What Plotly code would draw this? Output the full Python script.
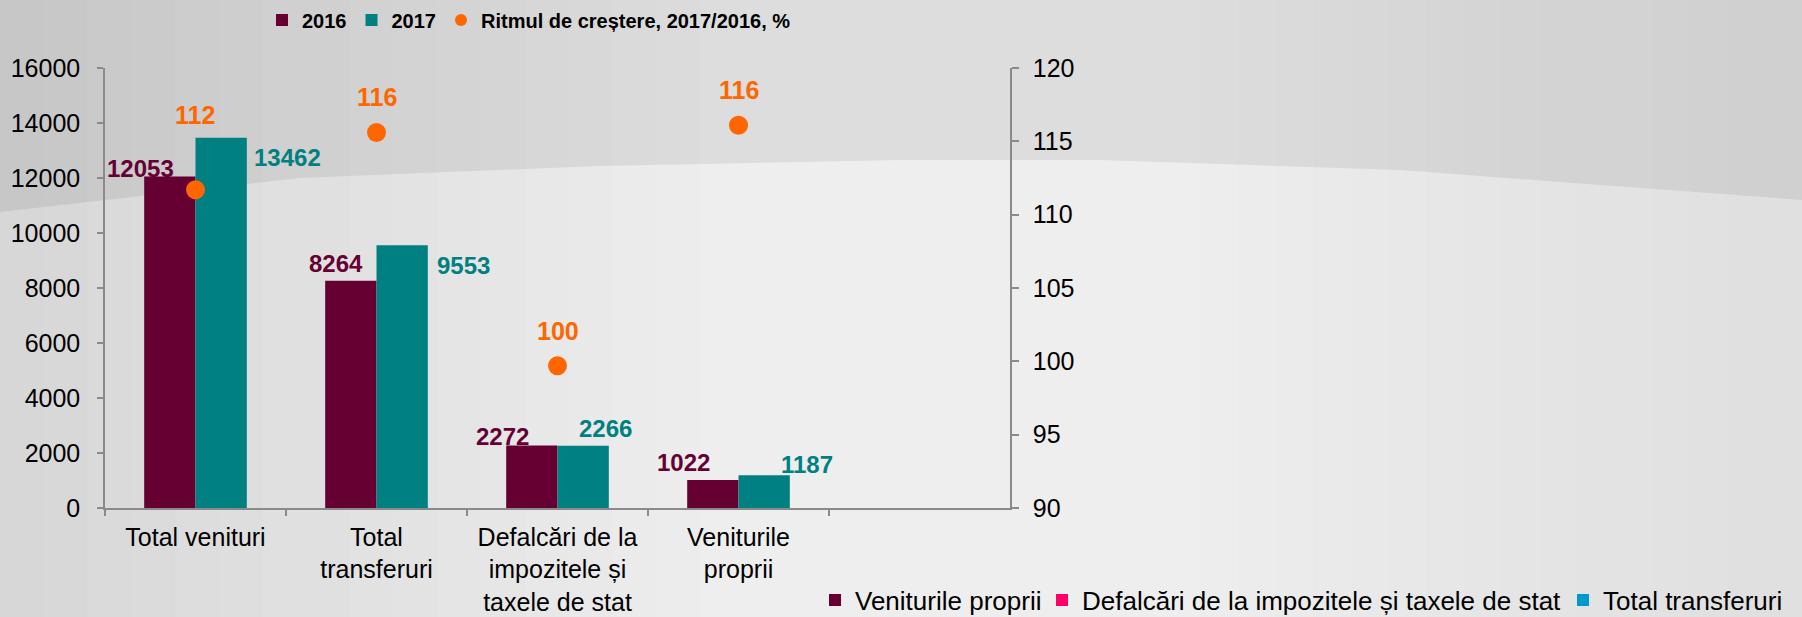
import plotly.graph_objects as go

# ---------------- data ----------------
categories = ["Total venituri", "Total transferuri",
              "Defalcări de la impozitele și taxele de stat", "Veniturile proprii"]
tick_labels = ["Total venituri", "Total<br>transferuri",
               "Defalcări de la<br>impozitele și<br>taxele de stat", "Veniturile<br>proprii"]
values_2016 = [12053, 8264, 2272, 1022]
values_2017 = [13462, 9553, 2266, 1187]
growth_rate = [111.7, 115.6, 99.7, 116.1]
left_ticks = [0, 2000, 4000, 6000, 8000, 10000, 12000, 14000, 16000]
right_ticks = [90, 95, 100, 105, 110, 115, 120]
series_names = ["2016", "2017", "Ritmul de creștere, 2017/2016, %"]
legend2_names = ["Veniturile proprii", "Defalcări de la impozitele și taxele de stat", "Total transferuri"]

# ---------------- styles ----------------
C2016 = "#660033"
C2017 = "#008080"
CORANGE = "#FF6600"
legend2_colors = ["#660033", "#FF0066", "#0099CC"]
legend2_pos = [815, 1042, 1563]
FONT = "Liberation Sans, Arial, sans-serif"
AXIS = "#8a8a8a"

W, H = 1802, 617
ML, MR, MT, MB = 105, 792, 68, 109
PW, PH = W - ML - MR, H - MT - MB


def px(x):
    return (x - ML) / PW


def py(y):
    return (H - MB - y) / PH


fig = go.Figure()
fig.add_trace(go.Bar(x=categories, y=values_2016, name=series_names[0],
                     marker=dict(color=C2016, line=dict(width=0))))
fig.add_trace(go.Bar(x=categories, y=values_2017, name=series_names[1],
                     marker=dict(color=C2017, line=dict(width=0))))
fig.add_trace(go.Scatter(x=categories, y=growth_rate, name=series_names[2], yaxis="y2",
                         mode="markers", marker=dict(color=CORANGE, size=19)))

extra_legends = {}
for i, (name, col, xpos) in enumerate(zip(legend2_names, legend2_colors, legend2_pos)):
    key = f"legend{i + 2}"
    fig.add_trace(go.Scatter(x=[None], y=[None], name=name, mode="markers",
                             marker=dict(symbol="square", color=col, size=13),
                             legend=key, showlegend=True, hoverinfo="skip"))
    extra_legends[key] = dict(orientation="h", xref="container", yref="container",
                              x=xpos / W, y=1 - 600 / H, xanchor="left", yanchor="middle",
                              font=dict(family=FONT, size=26, color="#000000"),
                              bgcolor="rgba(0,0,0,0)", itemsizing="constant", borderwidth=0)

# ---------------- data labels ----------------
off2016 = [(-55, 8), (-41, 17), (-55, 9), (-55, 17)]
off2017 = [(92, -20), (87, -20), (48, 17), (68, 11)]
offgrowth = [(-1, 75), (0, 36), (0, 35), (0, 35)]
ann = []
for c, v, (dx, dy) in zip(categories, values_2016, off2016):
    ann.append(dict(x=c, y=v, xref="x", yref="y", text=f"<b>{v}</b>", showarrow=False,
                    xshift=dx, yshift=dy, font=dict(family=FONT, size=24, color=C2016)))
for c, v, (dx, dy) in zip(categories, values_2017, off2017):
    ann.append(dict(x=c, y=v, xref="x", yref="y", text=f"<b>{v}</b>",
                    showarrow=False, xshift=dx, yshift=dy,
                    font=dict(family=FONT, size=24, color=C2017)))
for c, v, (dx, dy) in zip(categories, growth_rate, offgrowth):
    ann.append(dict(x=c, y=v, xref="x", yref="y2", text=f"<b>{v:.0f}</b>", showarrow=False,
                    xshift=dx, yshift=dy, font=dict(family=FONT, size=25, color=CORANGE)))

# ---------------- background ----------------
shapes = []
y0, y1 = py(H), py(0)
nstrip = 16
for i in range(nstrip):
    a = 0.095 * (1 - i / nstrip)
    xa, xb = i * 700 / nstrip, (i + 1) * 700 / nstrip
    shapes.append(dict(type="rect", xref="paper", yref="paper", x0=px(xa), x1=px(xb),
                       y0=y0, y1=y1, fillcolor=f"rgba(0,0,0,{a:.4f})", line=dict(width=0),
                       layer="below"))
for i in range(nstrip):
    a = 0.06 * (i + 1) / nstrip
    xa, xb = 1200 + i * 602 / nstrip, 1200 + (i + 1) * 602 / nstrip
    shapes.append(dict(type="rect", xref="paper", yref="paper", x0=px(xa), x1=px(xb),
                       y0=y0, y1=y1, fillcolor=f"rgba(0,0,0,{a:.4f})", line=dict(width=0),
                       layer="below"))
pts = [(0, 212), (300, 178), (600, 166), (900, 160), (1100, 160), (1400, 170),
       (1600, 185), (1802, 200)]
path = f"M {px(0)},{py(0)} " + " ".join(f"L {px(a)},{py(b)}" for a, b in pts) + f" L {px(W)},{py(0)} Z"
shapes.append(dict(type="path", xref="paper", yref="paper", path=path,
                   fillcolor="rgba(0,0,0,0.07)", line=dict(width=0), layer="below"))

fig.update_layout(
    width=W, height=H,
    margin=dict(l=ML, r=MR, t=MT, b=MB, autoexpand=False),
    paper_bgcolor="#eeeeee",
    plot_bgcolor="rgba(0,0,0,0)",
    font=dict(family=FONT, size=25, color="#000000"),
    barmode="group", bargap=0.433, bargroupgap=0,
    showlegend=True,
    legend=dict(orientation="h", xref="container", yref="container",
                x=262 / W, y=1 - 20 / H, xanchor="left", yanchor="middle",
                font=dict(family=FONT, size=20, color="#000000", weight="bold"),
                bgcolor="rgba(0,0,0,0)", itemsizing="constant", traceorder="normal"),
    xaxis=dict(type="category", categoryorder="array", categoryarray=categories,
               tickvals=categories, ticktext=tick_labels, range=[-0.5, 4.5],
               showline=True, linecolor=AXIS, linewidth=1.5, ticks="outside",
               tickson="boundaries", ticklen=6, tickcolor=AXIS, tickwidth=1.5,
               showgrid=False, zeroline=False, ticklabelstandoff=6,
               tickfont=dict(family=FONT, size=25, color="#000000")),
    yaxis=dict(range=[0, 16000], tickvals=left_ticks, tickformat="d", showline=True,
               linecolor=AXIS, linewidth=1.5, ticks="outside", ticklen=6, tickcolor=AXIS,
               tickwidth=1.5, showgrid=False, zeroline=False, ticklabelstandoff=12,
               tickfont=dict(family=FONT, size=25, color="#000000")),
    yaxis2=dict(range=[90, 120], tickvals=right_ticks, overlaying="y", side="right",
                showline=True, linecolor=AXIS, linewidth=1.5, ticks="outside", ticklen=7,
                tickcolor=AXIS, tickwidth=1.5, showgrid=False, zeroline=False,
                ticklabelstandoff=9,
                tickfont=dict(family=FONT, size=25, color="#000000")),
    annotations=ann,
    shapes=shapes,
    **extra_legends,
)

fig.write_html("out.html", config={"displayModeBar": False},
               post_script="document.body.style.margin='0px';document.body.style.overflow='hidden';")
